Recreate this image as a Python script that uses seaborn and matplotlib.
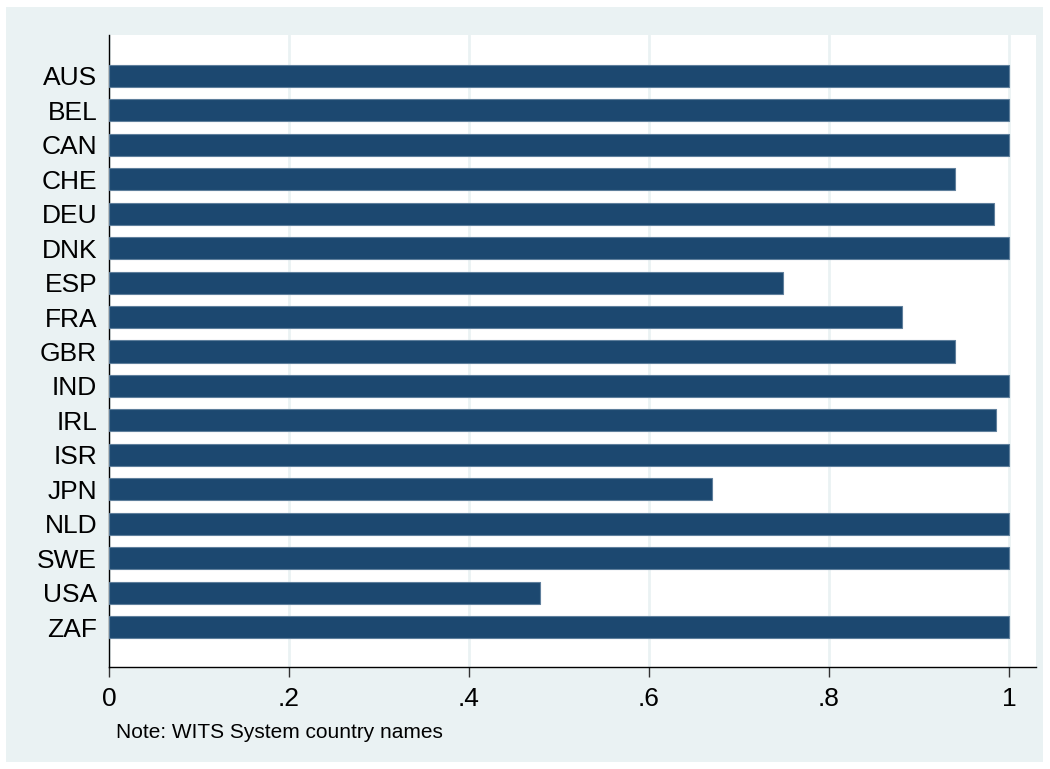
import matplotlib
matplotlib.use("Agg")
import matplotlib.pyplot as plt
import seaborn as sns
from matplotlib.patches import Rectangle

countries = ["AUS", "BEL", "CAN", "CHE", "DEU", "DNK", "ESP", "FRA", "GBR",
             "IND", "IRL", "ISR", "JPN", "NLD", "SWE", "USA", "ZAF"]
shares = [1.0, 1.0, 1.0, 0.94, 0.983, 1.0, 0.749, 0.881, 0.94,
          1.0, 0.985, 1.0, 0.67, 1.0, 1.0, 0.479, 1.0]
xticks = [0, 0.2, 0.4, 0.6, 0.8, 1.0]
xtick_labels = ["0", ".2", ".4", ".6", ".8", "1"]
note = "Note: WITS System country names"

BG = "#EAF2F3"
BAR = "#1C4870"

sns.set_style("white")
plt.rcParams["font.family"] = ["Liberation Sans", "DejaVu Sans"]

fig = plt.figure(figsize=(10.5, 7.69), dpi=100, facecolor="white")
# light bluish graph region behind the white plot area
fig.patches.append(Rectangle((6 / 1050, 1 - 762 / 769), 1037 / 1050, 755 / 769,
                             transform=fig.transFigure, facecolor=BG,
                             edgecolor="none", zorder=-10))
ax = fig.add_axes([109 / 1050, 1 - 667 / 769, 927 / 1050, 632 / 769])
ax.set_facecolor("white")

sns.barplot(x=shares, y=countries, orient="h", color=BAR, saturation=1,
            width=0.64, edgecolor="#5F7F9C", linewidth=0.8, ax=ax, zorder=3)

ax.set_xlim(0, 1.03)
ax.set_ylim(16 + 1.16, -1.19)
ax.set_xticks(xticks)
ax.set_xticklabels(xtick_labels)
ax.grid(axis="x", color=BG, linewidth=2, zorder=0)
ax.set_axisbelow(True)
ax.set_xlabel("")
ax.set_ylabel("")

for s in ["top", "right"]:
    ax.spines[s].set_visible(False)
for s in ["left", "bottom"]:
    ax.spines[s].set_color("black")
    ax.spines[s].set_linewidth(1.0)

ax.tick_params(axis="x", length=7.5, width=1, color="#333333", pad=7,
               labelsize=19, labelcolor="black", bottom=True)
ax.tick_params(axis="y", length=0, pad=8.5, labelsize=19, labelcolor="black")

fig.text(116 / 1050, 1 - 733 / 769, note, fontsize=15, va="center",
         ha="left", color="black")

fig.savefig("out.png", dpi=100, facecolor="white")
